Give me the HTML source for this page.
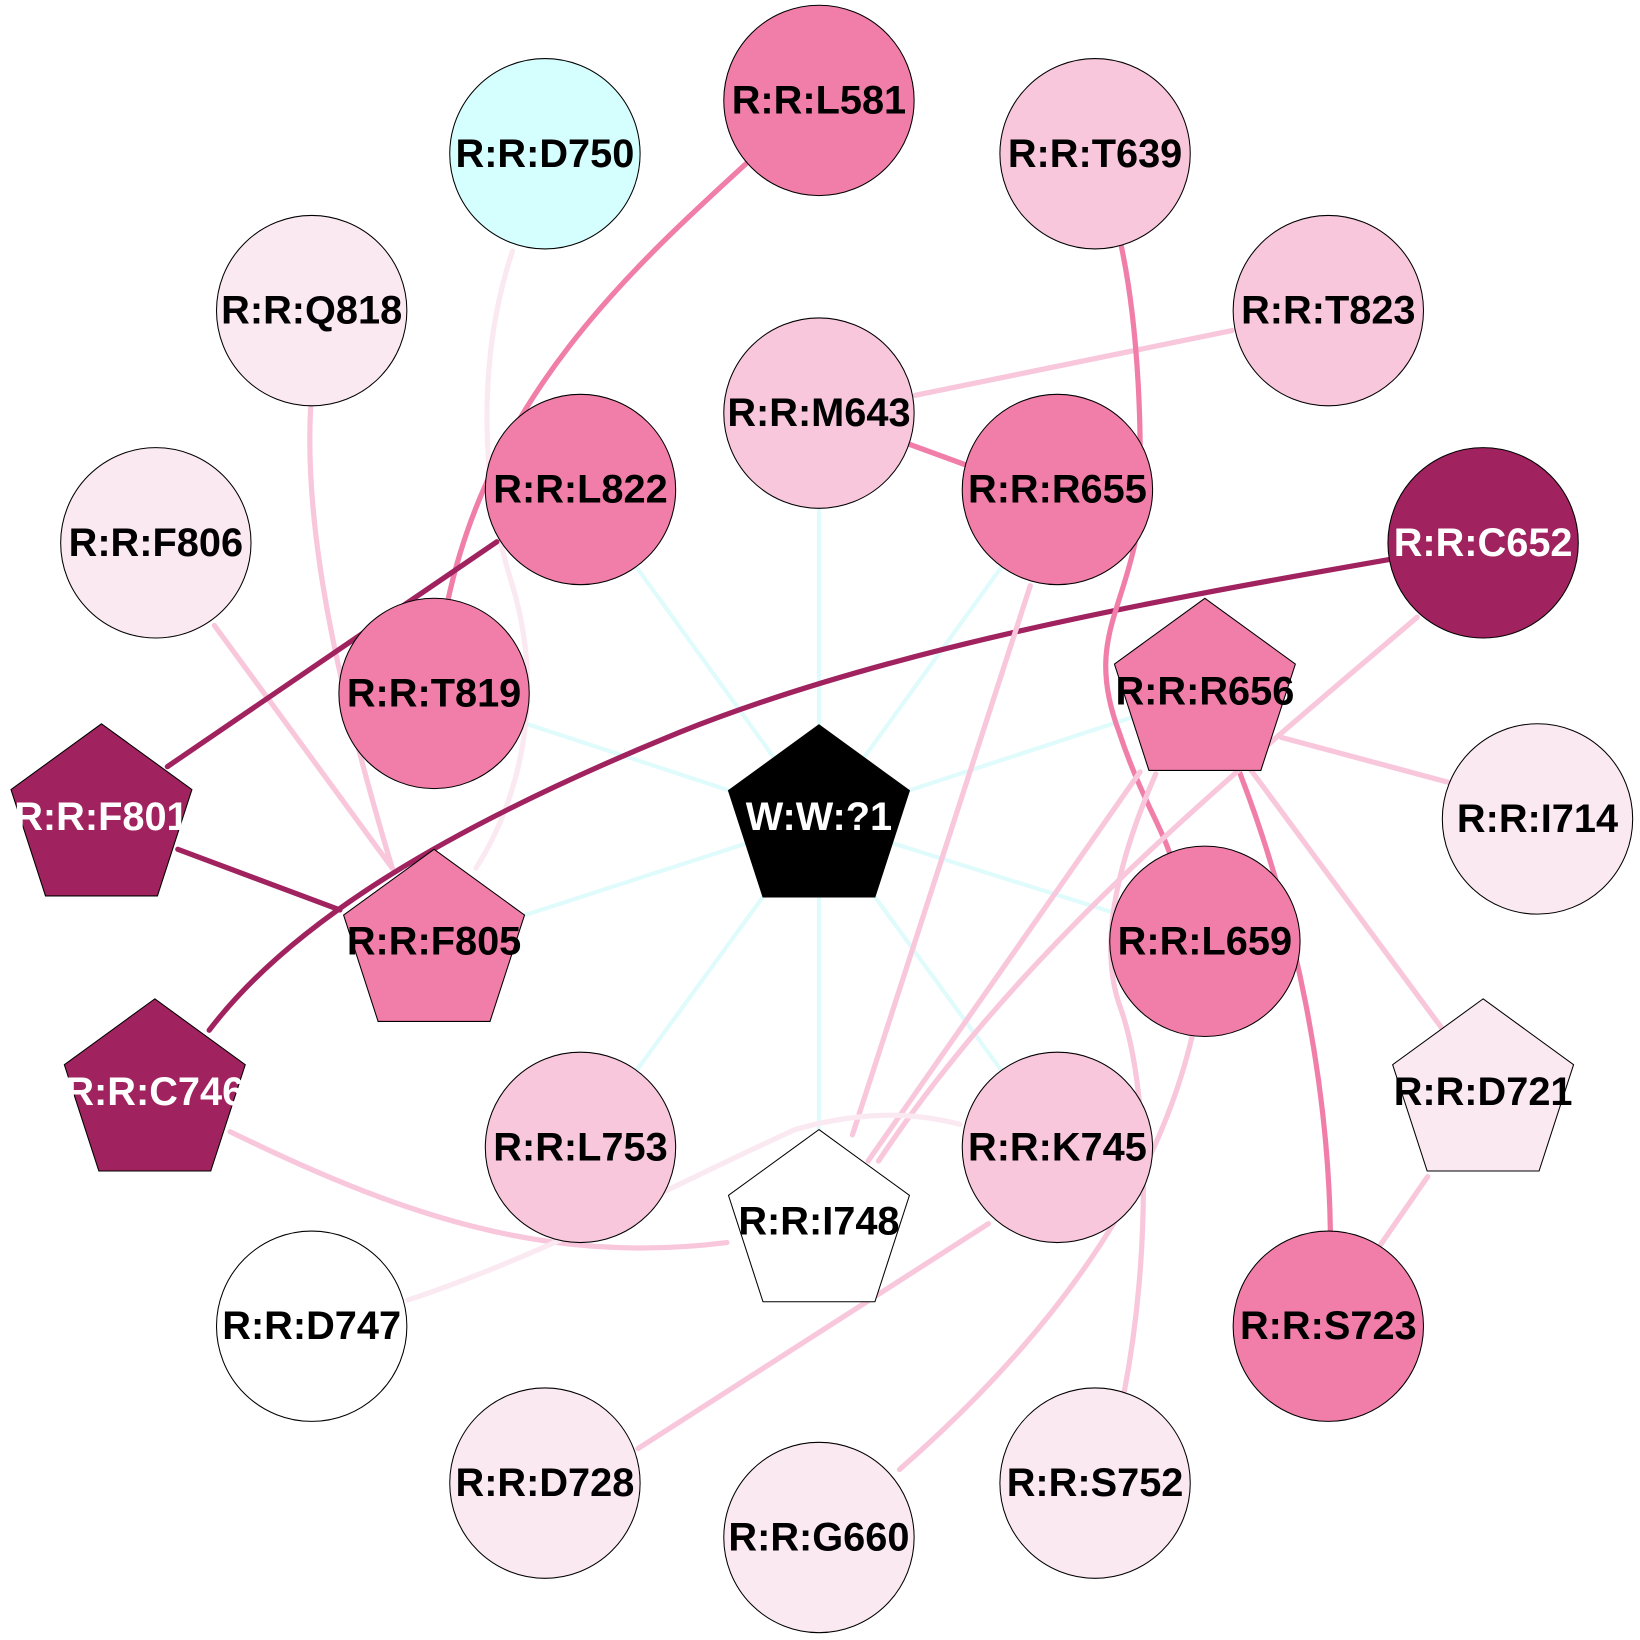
<!DOCTYPE html>
<html><head><style>html,body{margin:0;padding:0;background:#fff}svg{display:block}</style></head>
<body>
<svg width="1640" height="1640" viewBox="0 0 1568 1568" xmlns="http://www.w3.org/2000/svg">
<g fill="none" stroke-linecap="round">
<g stroke="#e0fbfb" stroke-width="4">
<line x1="783" y1="784" x2="415" y2="663"/>
<line x1="783" y1="784" x2="555" y2="468"/>
<line x1="783" y1="784" x2="783" y2="395"/>
<line x1="783" y1="784" x2="1011" y2="468"/>
<line x1="783" y1="784" x2="1152" y2="663"/>
<line x1="783" y1="784" x2="415" y2="903"/>
<line x1="783" y1="784" x2="555" y2="1097"/>
<line x1="783" y1="784" x2="783" y2="1171"/>
<line x1="783" y1="784" x2="1152" y2="900"/>
<line x1="783" y1="784" x2="1011" y2="1097"/>
</g>
<path d="M490 240 C460 330,455 450,490 560 C520 660,500 760,455 830" stroke="#fbe9f2" stroke-width="5"/>
<path d="M297 390 C290 520,330 680,375 830" stroke="#f8c7dc" stroke-width="5"/>
<line x1="205" y1="598" x2="375" y2="830" stroke="#f8c7dc" stroke-width="5"/>
<path d="M715 155 C600 260,470 380,428 575" stroke="#f07ea9" stroke-width="5"/>
<line x1="475" y1="518" x2="160" y2="733" stroke="#a0225e" stroke-width="5"/>
<line x1="170" y1="812" x2="325" y2="870" stroke="#a0225e" stroke-width="5"/>
<path d="M1328 535 C1100 575,850 620,650 700 C430 790,280 880,200 985" stroke="#a0225e" stroke-width="5"/>
<line x1="875" y1="378" x2="1178" y2="316" stroke="#f8c7dc" stroke-width="5"/>
<line x1="870" y1="425" x2="922" y2="444" stroke="#f07ea9" stroke-width="5"/>
<path d="M1072 235 C1090 320,1095 450,1085 520 C1070 590,1040 620,1070 700 C1090 760,1110 790,1118 815" stroke="#f07ea9" stroke-width="5"/>
<path d="M1185 738 C1240 880,1270 1040,1272 1178" stroke="#f07ea9" stroke-width="5"/>
<line x1="1225" y1="705" x2="1385" y2="748" stroke="#f8c7dc" stroke-width="5"/>
<line x1="1195" y1="735" x2="1380" y2="985" stroke="#f8c7dc" stroke-width="5"/>
<line x1="1090" y1="738" x2="830" y2="1110" stroke="#f8c7dc" stroke-width="5"/>
<path d="M1355 590 C1180 740,980 900,840 1110" stroke="#f8c7dc" stroke-width="5"/>
<line x1="985" y1="560" x2="815" y2="1085" stroke="#f8c7dc" stroke-width="5"/>
<path d="M1105 740 C1070 820,1050 900,1070 960 C1100 1040,1100 1200,1075 1330" stroke="#f8c7dc" stroke-width="5"/>
<path d="M1140 990 C1100 1160,980 1300,860 1405" stroke="#f8c7dc" stroke-width="5"/>
<line x1="945" y1="1170" x2="610" y2="1385" stroke="#f8c7dc" stroke-width="5"/>
<path d="M220 1082 C380 1160,520 1210,695 1188" stroke="#f8c7dc" stroke-width="5"/>
<path d="M390 1243 C520 1200,650 1130,760 1080 C830 1060,880 1065,918 1075" stroke="#fbe9f2" stroke-width="5"/>
<line x1="1365" y1="1125" x2="1320" y2="1190" stroke="#f8c7dc" stroke-width="5"/>
</g>
<g stroke="#000" stroke-width="1">
<circle cx="521" cy="147" r="91" fill="#d5fefe"/>
<circle cx="783" cy="96" r="91" fill="#f07ea9"/>
<circle cx="1047" cy="147" r="91" fill="#f8c7dc"/>
<circle cx="298" cy="297" r="91" fill="#fbe9f2"/>
<circle cx="1270" cy="297" r="91" fill="#f8c7dc"/>
<circle cx="783" cy="395" r="91" fill="#f8c7dc"/>
<circle cx="1011" cy="468" r="91" fill="#f07ea9"/>
<circle cx="555" cy="468" r="91" fill="#f07ea9"/>
<circle cx="149" cy="519" r="91" fill="#fbe9f2"/>
<circle cx="1418" cy="519" r="91" fill="#a0225e"/>
<circle cx="415" cy="663" r="91" fill="#f07ea9"/>
<circle cx="1470" cy="783" r="91" fill="#fbe9f2"/>
<circle cx="1152" cy="900" r="91" fill="#f07ea9"/>
<circle cx="555" cy="1097" r="91" fill="#f8c7dc"/>
<circle cx="1011" cy="1097" r="91" fill="#f8c7dc"/>
<circle cx="298" cy="1268" r="91" fill="#fff"/>
<circle cx="1270" cy="1268" r="91" fill="#f07ea9"/>
<circle cx="521" cy="1418" r="91" fill="#fbe9f2"/>
<circle cx="1047" cy="1418" r="91" fill="#fbe9f2"/>
<circle cx="783" cy="1470" r="91" fill="#fbe9f2"/>
<polygon transform="translate(1152,663)" points="0,-91 86.5,-28.1 53.5,73.6 -53.5,73.6 -86.5,-28.1" fill="#f07ea9"/>
<polygon transform="translate(783,784)" points="0,-91 86.5,-28.1 53.5,73.6 -53.5,73.6 -86.5,-28.1" fill="#000"/>
<polygon transform="translate(97,783)" points="0,-91 86.5,-28.1 53.5,73.6 -53.5,73.6 -86.5,-28.1" fill="#a0225e"/>
<polygon transform="translate(415,903)" points="0,-91 86.5,-28.1 53.5,73.6 -53.5,73.6 -86.5,-28.1" fill="#f07ea9"/>
<polygon transform="translate(148,1046)" points="0,-91 86.5,-28.1 53.5,73.6 -53.5,73.6 -86.5,-28.1" fill="#a0225e"/>
<polygon transform="translate(1418,1046)" points="0,-91 86.5,-28.1 53.5,73.6 -53.5,73.6 -86.5,-28.1" fill="#fbe9f2"/>
<polygon transform="translate(783,1171)" points="0,-91 86.5,-28.1 53.5,73.6 -53.5,73.6 -86.5,-28.1" fill="#fff"/>
</g>
<g font-family="Liberation Sans, Arial, sans-serif" font-weight="bold" font-size="38" text-anchor="middle" dominant-baseline="central" fill="#000">
<text x="521" y="147">R:R:D750</text>
<text x="783" y="96">R:R:L581</text>
<text x="1047" y="147">R:R:T639</text>
<text x="298" y="297">R:R:Q818</text>
<text x="1270" y="297">R:R:T823</text>
<text x="783" y="395">R:R:M643</text>
<text x="1011" y="468">R:R:R655</text>
<text x="555" y="468">R:R:L822</text>
<text x="149" y="519">R:R:F806</text>
<text x="1418" y="519" fill="#fff">R:R:C652</text>
<text x="415" y="663">R:R:T819</text>
<text x="1152" y="661">R:R:R656</text>
<text x="783" y="781" fill="#fff">W:W:?1</text>
<text x="97" y="781" fill="#fff">R:R:F801</text>
<text x="1470" y="783">R:R:I714</text>
<text x="415" y="900">R:R:F805</text>
<text x="1152" y="900">R:R:L659</text>
<text x="148" y="1044" fill="#fff">R:R:C746</text>
<text x="1418" y="1044">R:R:D721</text>
<text x="555" y="1097">R:R:L753</text>
<text x="1011" y="1097">R:R:K745</text>
<text x="783" y="1168">R:R:I748</text>
<text x="298" y="1268">R:R:D747</text>
<text x="1270" y="1268">R:R:S723</text>
<text x="521" y="1418">R:R:D728</text>
<text x="1047" y="1418">R:R:S752</text>
<text x="783" y="1470">R:R:G660</text>
</g>
</svg>
</body></html>
